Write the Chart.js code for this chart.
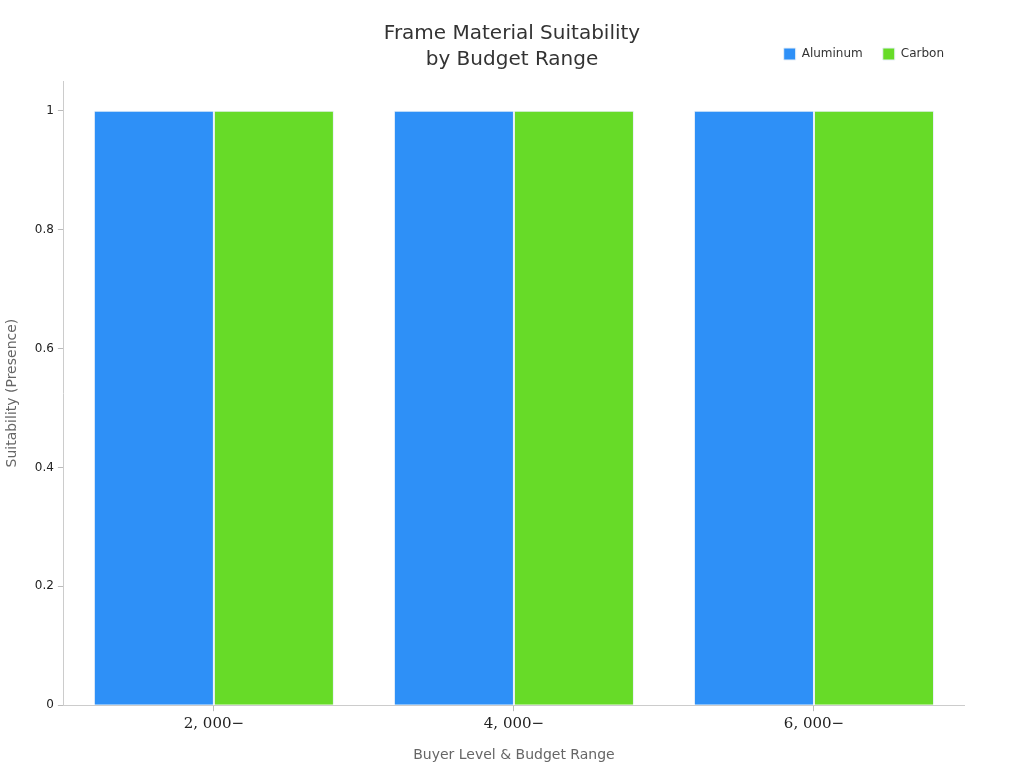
<!DOCTYPE html>
<html><head><meta charset="utf-8">
<script src="https://cdn.jsdelivr.net/npm/chart.js@4"></script>
<style>html,body{margin:0;padding:0;background:#fff}#w{width:1024px;height:768px}</style>
</head><body><div id="w"><canvas id="c"></canvas></div>
<script>
const categories = ["2, 000\u2212", "4, 000\u2212", "6, 000\u2212"];
const aluminum = [1, 1, 1];
const carbon = [1, 1, 1];
const yTicks = [0, 0.2, 0.4, 0.6, 0.8, 1];
const titleLines = ["Frame Material Suitability", "by Budget Range"];

const titlePlugin = {
  id: 'tp',
  afterInit(chart) {
    const l = chart.legend;
    if (l) { const f = l.fit.bind(l); l.fit = function(){ f(); this.height += 11; }; }
  },
  afterDraw(chart) {
    const ctx = chart.ctx;
    ctx.save();
    ctx.fillStyle = '#333';
    ctx.font = '20px "DejaVu Sans"';
    ctx.textAlign = 'center';
    ctx.textBaseline = 'middle';
    ctx.fillText(titleLines[0], 512, 34);
    ctx.fillText(titleLines[1], 512, 60);
    ctx.restore();
  }
};

new Chart(document.getElementById('c'), {
  type: 'bar',
  data: {
    labels: categories,
    datasets: [
      {label: 'Aluminum', data: aluminum, backgroundColor: '#2e90f7', borderColor: '#e8f0f8', borderWidth: 1},
      {label: 'Carbon', data: carbon, backgroundColor: '#67db28', borderColor: '#e8f0f8', borderWidth: 1}
    ]
  },
  options: {
    responsive: true, maintainAspectRatio: false, animation: false,
    devicePixelRatio: 1,
    layout: {padding: {top: 28, right: 60, left: 0, bottom: 0}},
    datasets: {bar: {categoryPercentage: 0.8, barPercentage: 1}},
    plugins: {
      title: {display: false},
      legend: {position: 'top', align: 'end',
        labels: {boxWidth: 12, boxHeight: 12, padding: 20, color: '#333', font: {size: 12, family: '"DejaVu Sans"'}}},
      tooltip: {enabled: false}
    },
    scales: {
      x: {
        grid: {display: true, offset: false, drawOnChartArea: false, drawTicks: true, tickLength: 6, color: '#bbb'},
        border: {color: '#ccc'},
        ticks: {color: '#222', font: {size: 15, family: '"DejaVu Serif"'}, padding: 4},
        title: {display: true, text: 'Buyer Level & Budget Range', color: '#666', font: {size: 14, family: '"DejaVu Sans"'}, padding: {top: 10, bottom: 4}}
      },
      y: {
        min: 0, max: 1.05,
        afterBuildTicks(s) { s.ticks = yTicks.map(v => ({value: v})); },
        grid: {display: true, drawOnChartArea: false, drawTicks: true, tickLength: 6, color: '#bbb'},
        border: {color: '#ccc'},
        ticks: {color: '#222', font: {size: 12, family: '"DejaVu Sans"'}, padding: 4, callback: v => String(v)},
        title: {display: true, text: 'Suitability (Presence)', color: '#666', font: {size: 14, family: '"DejaVu Sans"'}, padding: {bottom: 10}}
      }
    }
  },
  plugins: [titlePlugin]
});
</script></body></html>
